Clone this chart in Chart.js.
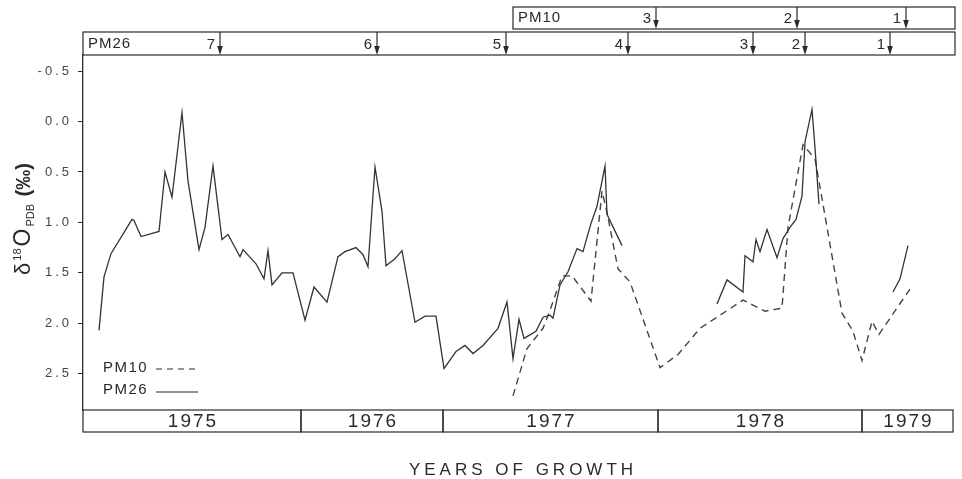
<!DOCTYPE html>
<html>
<head>
<meta charset="utf-8">
<script src="https://cdn.jsdelivr.net/npm/chart.js@4"></script>
<style>
  html, body { margin: 0; padding: 0; background: #fff; }
  #wrap { width: 962px; height: 479px; }
</style>
</head>
<body>
<div id="wrap"><canvas id="isoChart" width="962" height="479"></canvas></div>
<script>
/* ==========================================
   delta 18O profiles, PM10 / PM26
========================================== */

// growth distance (arbitrary units along the shell) and delta18O values
const pm26Pos = [
  1.6, 2.1, 2.8, 4.9, 5.1, 5.8, 7.6, 8.2, 8.9, 9.9, 10.5, 11.6, 12.2, 13.0, 13.9, 14.5,
  15.7, 16.0, 17.3, 18.1, 18.5, 18.9, 19.9, 21.0, 22.2, 23.1, 24.4, 25.5, 26.2, 27.3,
  28.0, 28.5, 29.2, 29.9, 30.3, 31.2, 31.9, 33.2, 34.2, 35.3, 36.1, 37.3, 38.2, 39.0,
  40.0, 41.5, 42.4, 43.0, 43.6, 44.1, 45.3, 46.0, 46.7, 47.0, 47.7, 48.5, 49.4, 50.0,
  50.8, 51.4, 52.2, 52.4, 53.9, 60.0,
  63.4, 64.4, 66.0, 66.2, 67.0, 67.3, 67.7, 68.4, 69.4, 70.0, 70.7, 71.3, 71.9, 72.2,
  72.9, 73.2, 73.6, 77.0,
  81.0, 81.7, 82.5
];
const pm26Delta = [
  2.07, 1.54, 1.31, 0.97, 0.98, 1.14, 1.09, 0.50, 0.75, -0.09, 0.59, 1.27, 1.05, 0.44, 1.17, 1.12,
  1.34, 1.27, 1.41, 1.56, 1.28, 1.62, 1.50, 1.50, 1.97, 1.64, 1.79, 1.34, 1.29, 1.25,
  1.32, 1.44, 0.45, 0.89, 1.43, 1.36, 1.28, 1.99, 1.93, 1.93, 2.45, 2.28, 2.22, 2.30,
  2.22, 2.05, 1.79, 2.35, 1.96, 2.15, 2.08, 1.94, 1.92, 1.95, 1.62, 1.49, 1.26, 1.29,
  1.01, 0.84, 0.44, 0.92, 1.23, null,
  1.81, 1.57, 1.69, 1.33, 1.39, 1.17, 1.29, 1.07, 1.35, 1.16, 1.05, 0.97, 0.74, 0.20,
  -0.12, 0.26, 0.82, null,
  1.69, 1.56, 1.23
];

const pm10Pos = [
  43.0, 44.4, 46.0, 46.6, 47.9, 48.9, 50.8, 51.9, 52.4, 53.5, 54.7, 57.7, 59.5, 61.7,
  66.0, 68.2, 69.9, 70.5, 72.0, 72.6, 73.2, 74.0, 75.9, 77.0, 77.9, 78.9, 79.6, 82.7
];
const pm10Delta = [
  2.72, 2.25, 2.05, 1.90, 1.53, 1.53, 1.78, 0.69, 0.90, 1.46, 1.59, 2.44, 2.31, 2.05,
  1.77, 1.88, 1.85, 1.05, 0.23, 0.30, 0.37, 0.82, 1.90, 2.08, 2.37, 1.98, 2.11, 1.66
];

// years of growth (boundaries along the same distance axis)
const yearLabels = ["1975", "1976", "1977", "1978", "1979"];
const yearBounds = [0, 21.8, 36.0, 57.5, 77.9, 87.0];

// numbered growth marks in the top bars
const pm26Marks = [13.7, 29.4, 42.3, 54.5, 67.0, 72.2, 80.7];
const pm26MarkLabels = ["7", "6", "5", "4", "3", "2", "1"];
const pm10Marks = [57.3, 71.4, 82.3];
const pm10MarkLabels = ["3", "2", "1"];
const pm10BarStart = 43.0;
const barEnd = 87.2;

const yTicks = [-0.5, 0.0, 0.5, 1.0, 1.5, 2.0, 2.5];

const FONT = "'Liberation Sans', Arial, sans-serif";
const INK = "#2a2a2a";

function toPoints(xs, ys) {
    return xs.map((x, i) => ({ x: x, y: ys[i] }));
}

const decor = {
    id: "decor",
    beforeDraw(chart) {
        // wide spacing for the tick labels, like the printed figure
        chart.ctx.letterSpacing = "3px";
    },
    afterDraw(chart) {
        const ctx = chart.ctx;
        const xs = chart.scales.x;
        const area = chart.chartArea;
        const px = v => xs.getPixelForValue(v);

        ctx.save();
        ctx.strokeStyle = INK;
        ctx.fillStyle = INK;
        ctx.lineWidth = 1.2;

        // top bars with numbered arrows
        function bar(x0, x1, top, bottom, name, marks, labels) {
            ctx.strokeRect(px(x0), top, px(x1) - px(x0), bottom - top);
            ctx.font = "15px " + FONT;
            ctx.letterSpacing = "1px";
            ctx.textAlign = "left";
            ctx.textBaseline = "middle";
            ctx.fillText(name, px(x0) + 5, (top + bottom) / 2);
            marks.forEach((m, i) => {
                const x = px(m);
                ctx.beginPath();
                ctx.moveTo(x, top);
                ctx.lineTo(x, bottom - 6);
                ctx.stroke();
                ctx.beginPath();
                ctx.moveTo(x - 2.8, bottom - 9);
                ctx.lineTo(x + 2.8, bottom - 9);
                ctx.lineTo(x, bottom);
                ctx.closePath();
                ctx.fill();
                ctx.textAlign = "right";
                ctx.letterSpacing = "0px";
                ctx.fillText(labels[i], x - 5, (top + bottom) / 2 + 1);
                ctx.letterSpacing = "1px";
            });
        }
        bar(pm10BarStart, barEnd, 7, 29, "PM10", pm10Marks, pm10MarkLabels);
        bar(xs.min, barEnd, 32, area.top, "PM26", pm26Marks, pm26MarkLabels);

        // year boxes below the plot
        const yTop = area.bottom, yBot = area.bottom + 22;
        ctx.font = "19px " + FONT;
        ctx.letterSpacing = "2px";
        ctx.textAlign = "center";
        ctx.textBaseline = "middle";
        yearLabels.forEach((lab, i) => {
            const a = px(yearBounds[i]), b = px(yearBounds[i + 1]);
            ctx.strokeRect(a, yTop, b - a, yBot - yTop);
            ctx.fillText(lab, (a + b) / 2 + 1, (yTop + yBot) / 2 + 1);
        });

        // x title
        ctx.font = "17px " + FONT;
        ctx.letterSpacing = "4px";
        ctx.fillText("YEARS OF GROWTH", 523, 470);

        // legend inside the plot
        ctx.font = "15px " + FONT;
        ctx.letterSpacing = "1.5px";
        ctx.textAlign = "left";
        ctx.fillText("PM10", 103, 368);
        ctx.fillText("PM26", 103, 390);
        ctx.lineWidth = 1.1;
        ctx.setLineDash([6, 5]);
        ctx.beginPath(); ctx.moveTo(156, 369); ctx.lineTo(198, 369); ctx.stroke();
        ctx.setLineDash([]);
        ctx.beginPath(); ctx.moveTo(156, 392); ctx.lineTo(198, 392); ctx.stroke();

        // y title: delta 18O PDB (permil), rotated
        ctx.translate(22, 218);
        ctx.rotate(-Math.PI / 2);
        ctx.textAlign = "left";
        ctx.textBaseline = "alphabetic";
        ctx.letterSpacing = "0px";
        const parts = [
            { t: "δ", f: "22px " + FONT, dy: 0 },
            { t: "18", f: "11px " + FONT, dy: -9 },
            { t: "O", f: "23px " + FONT, dy: 0 },
            { t: "PDB", f: "11px " + FONT, dy: 4 },
            { t: " (‰)", f: "bold 20px " + FONT, dy: 0 }
        ];
        let w = 0;
        parts.forEach(p => { ctx.font = p.f; w += ctx.measureText(p.t).width + 2; });
        let cx = -w / 2;
        parts.forEach(p => {
            ctx.font = p.f;
            ctx.fillText(p.t, cx, 8 + p.dy);
            cx += ctx.measureText(p.t).width + 2;
        });
        ctx.restore();
    }
};

const ctx = document.getElementById("isoChart").getContext("2d");

new Chart(ctx, {

    type: "line",

    data: {

        datasets: [
            {
                label: "PM26",
                data: toPoints(pm26Pos, pm26Delta),
                borderColor: "#333",
                borderWidth: 1.3,
                pointRadius: 0,
                tension: 0,
                spanGaps: false
            },
            {
                label: "PM10",
                data: toPoints(pm10Pos, pm10Delta),
                borderColor: "#444",
                borderWidth: 1.4,
                borderDash: [7, 5],
                pointRadius: 0,
                tension: 0
            }
        ]

    },

    options: {

        responsive: false,

        animation: false,

        layout: {
            padding: { top: 55, right: 7, bottom: 69, left: 0 }
        },

        plugins: {
            legend: { display: false },
            tooltip: { enabled: false }
        },

        scales: {

            x: {
                type: "linear",
                min: 0,
                max: barEnd,
                display: false
            },

            y: {
                reverse: true,
                min: -0.66,
                max: 2.86,
                afterFit(scale) { scale.width = 83; },
                afterBuildTicks(scale) { scale.ticks = yTicks.map(v => ({ value: v })); },
                border: { display: true, color: INK, width: 1.3 },
                grid: {
                    display: true,
                    drawOnChartArea: false,
                    drawTicks: true,
                    tickLength: 5,
                    color: INK
                },
                ticks: {
                    padding: 6,
                    color: "#444",
                    font: { family: FONT, size: 13 },
                    callback: v => v.toFixed(1)
                }
            }

        }

    },

    plugins: [decor]

});
</script>
</body>
</html>
